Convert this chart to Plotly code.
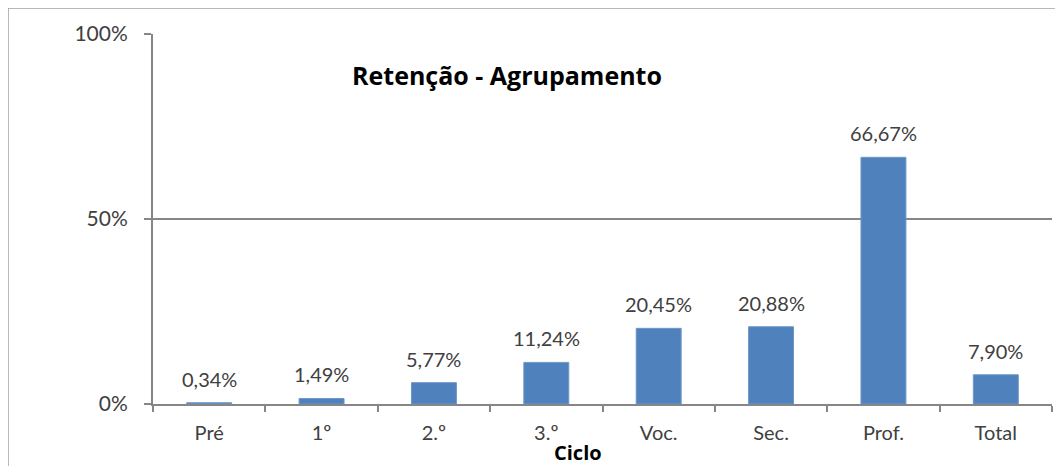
import plotly.graph_objects as go

categories = ["Pré", "1º", "2.º", "3.º", "Voc.", "Sec.", "Prof.", "Total"]
values = [0.34, 1.49, 5.77, 11.24, 20.45, 20.88, 66.67, 7.90]
y_ticks = [0, 50, 100]
y_tick_text = ["0%", "50%", "100%"]

GRAY = "#868686"
TXT = "#404040"
FONT = "Lato, 'Open Sans', sans-serif"

fig = go.Figure()
fig.add_trace(go.Bar(
    x=categories, y=values,
    marker=dict(color="#4F81BD", line=dict(color="#6F96C6", width=1)),
    width=0.4, hoverinfo="skip",
))

annotations = [
    dict(x=c, y=v, xref="x", yref="y", text=f"{v:.2f}%".replace(".", ","),
         showarrow=False, xanchor="center", yanchor="bottom", yshift=10,
         font=dict(size=20, color=TXT, family=FONT))
    for c, v in zip(categories, values)
]
annotations += [
    dict(text="<b>Retenção - Agrupamento</b>", xref="paper", yref="paper",
         x=0.394, y=0.89, xanchor="center", yanchor="middle", showarrow=False,
         font=dict(size=25, color="black", family="'Open Sans', sans-serif")),
    dict(text="<b>Ciclo</b>", xref="paper", yref="paper",
         x=0.4725, y=-0.1324, xanchor="center", yanchor="middle", showarrow=False,
         font=dict(size=20, color="black", family="'Open Sans', sans-serif")),
]

fig.update_layout(
    width=1064, height=466,
    margin=dict(l=145, r=20, t=26, b=70),
    paper_bgcolor="white", plot_bgcolor="white",
    showlegend=False,
    font=dict(family=FONT, size=20, color=TXT),
    xaxis=dict(
        automargin=False,
        showline=True, linecolor=GRAY, linewidth=2,
        ticks="outside", tickson="boundaries", ticklen=6, tickcolor=GRAY, tickwidth=2,
        tickfont=dict(size=20, color=TXT), showgrid=False, ticklabelstandoff=10,
    ),
    yaxis=dict(
        automargin=False,
        range=[0, 100], tickvals=y_ticks, ticktext=y_tick_text,
        showline=True, linecolor=GRAY, linewidth=2,
        ticks="outside", ticklen=7, tickcolor=GRAY, tickwidth=2,
        gridcolor=GRAY, gridwidth=2, zeroline=False,
        tickfont=dict(size=21, color=TXT), ticklabelstandoff=12,
    ),
    annotations=annotations,
    shapes=[
        dict(type="line", xref="paper", yref="paper", x0=-0.1613, x1=1.0033, y0=1.0703, y1=1.0703,
             line=dict(color="#A0A0A0", width=1.5)),
        dict(type="line", xref="paper", yref="paper", x0=-0.1613, x1=-0.1613, y0=1.0703, y1=-0.2,
             line=dict(color="#A0A0A0", width=1.5)),
    ],
)

fig.write_html("out.html")
